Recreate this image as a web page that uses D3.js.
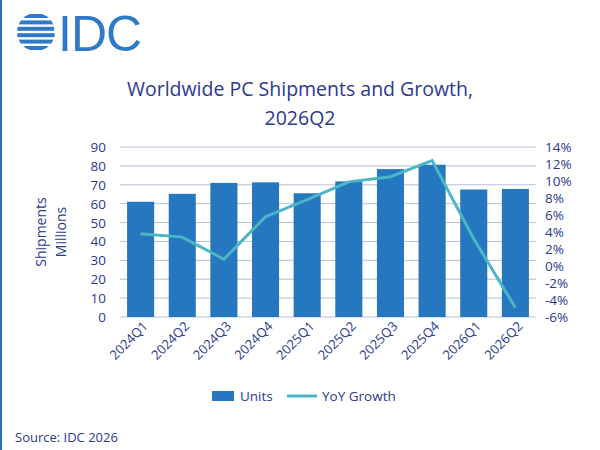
<!DOCTYPE html>
<html><head><meta charset="utf-8">
<script src="https://cdn.jsdelivr.net/npm/d3@7"></script>
<style>body{margin:0;background:#fff}svg{font-family:"Open Sans",sans-serif}</style>
</head><body><svg width="600" height="450"></svg>
<script>
const categories=["2024Q1","2024Q2","2024Q3","2024Q4","2025Q1","2025Q2","2025Q3","2025Q4","2026Q1","2026Q2"];
const units=[61,65.2,71,71.3,65.5,71.8,78.3,80.6,67.5,67.8];
const growth=[3.8,3.4,0.8,5.8,7.8,9.9,10.5,12.4,3.2,-4.9];
const leftTicks=[0,10,20,30,40,50,60,70,80,90];
const rightTicks=[-6,-4,-2,0,2,4,6,8,10,12,14];
const txt="#2b3990", barC="#2577c0", lineC="#4ab6c6";
const svg=d3.select("svg");
svg.append("rect").attr("width",600).attr("height",450).attr("fill","#fff");
svg.append("line").attr("x1",1).attr("x2",1).attr("y1",0).attr("y2",450).attr("stroke","#2e6fb3").attr("stroke-width",2);
// logo
const defs=svg.append("defs");
defs.append("clipPath").attr("id","glob").append("circle").attr("cx",36).attr("cy",32).attr("r",19);
const lg=svg.append("g").attr("fill","#2e7ac6").attr("clip-path","url(#glob)");
[0,1,2,3,4,5].forEach(i=>lg.append("rect").attr("x",[20,16,14,17,16,20][i]).attr("y",14+i*6.4).attr("width",40).attr("height",4));
svg.append("text").attr("x",58).attr("y",51).attr("font-size",50).attr("fill","#2e7ac6").attr("font-family","Liberation Sans, sans-serif").attr("letter-spacing",-1).text("IDC");
svg.append("text").attr("x",300).attr("y",96).attr("text-anchor","middle").attr("font-size",19.5).attr("fill",txt).text("Worldwide PC Shipments and Growth,");
svg.append("text").attr("x",300).attr("y",125).attr("text-anchor","middle").attr("font-size",19.5).attr("fill",txt).text("2026Q2");
const L=120,R=536,T=147,B=317;
const x=d3.scaleBand().domain(categories).range([L,R]).paddingInner(0.35).paddingOuter(0.17);
const y=d3.scaleLinear().domain([0,90]).range([B,T]);
const y2=d3.scaleLinear().domain([-6,14]).range([B,T]);
leftTicks.forEach(t=>{
 svg.append("line").attr("x1",L).attr("x2",R).attr("y1",y(t)).attr("y2",y(t)).attr("stroke","#b8c0d8").attr("stroke-width",1);
 svg.append("text").attr("x",106).attr("y",y(t)+5).attr("text-anchor","end").attr("font-size",13.5).attr("fill",txt).text(t);
});
rightTicks.forEach(t=>svg.append("text").attr("x",545).attr("y",y2(t)+5).attr("font-size",13.5).attr("fill",txt).text(t+"%"));
svg.selectAll(".bar").data(units).enter().append("rect").attr("x",(d,i)=>x(categories[i])).attr("width",x.bandwidth()).attr("y",d=>y(d)).attr("height",d=>B-y(d)).attr("fill",barC);
svg.append("path").datum(growth).attr("fill","none").attr("stroke",lineC).attr("stroke-width",3)
 .attr("d",d3.line().x((d,i)=>x(categories[i])+x.bandwidth()/2).y(d=>y2(d)));
categories.forEach(c=>svg.append("text").attr("transform",`translate(${x(c)+x.bandwidth()/2+8},${B+10}) rotate(-45)`).attr("text-anchor","end").attr("font-size",13).attr("fill",txt).text(c));
svg.append("text").attr("transform","translate(46,232) rotate(-90)").attr("text-anchor","middle").attr("font-size",14).attr("fill",txt).text("Shipments");
svg.append("text").attr("transform","translate(66,232) rotate(-90)").attr("text-anchor","middle").attr("font-size",14).attr("fill",txt).text("Millions");
svg.append("rect").attr("x",212).attr("y",391).attr("width",22).attr("height",10).attr("fill",barC);
svg.append("text").attr("x",240).attr("y",401).attr("font-size",13.5).attr("fill",txt).text("Units");
svg.append("line").attr("x1",287).attr("x2",317).attr("y1",396).attr("y2",396).attr("stroke",lineC).attr("stroke-width",3);
svg.append("text").attr("x",322).attr("y",401).attr("font-size",13.5).attr("fill",txt).text("YoY Growth");
svg.append("text").attr("x",15).attr("y",442).attr("font-size",13).attr("fill",txt).text("Source: IDC 2026");
</script></body></html>
